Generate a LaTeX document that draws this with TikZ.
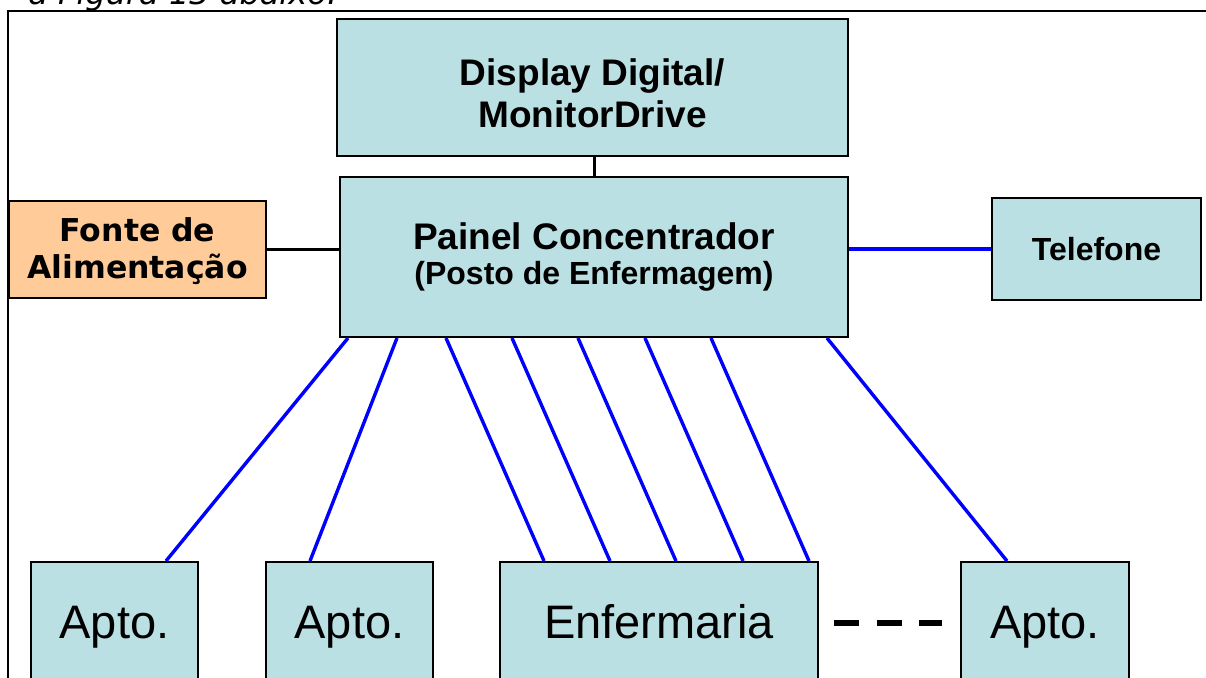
\documentclass[tikz,border=0pt]{standalone}
\usepackage{fontspec}
\setmainfont{Liberation Sans}
\newfontfamily\dvs{DejaVu Sans}
\usetikzlibrary{calc}
\definecolor{boxblue}{RGB}{187,224,227}
\definecolor{peach}{RGB}{255,204,153}
\definecolor{wireblue}{RGB}{0,0,255}
\tikzset{
  box/.style={draw=black, line width=1pt, fill=boxblue, inner sep=0pt, anchor=north west, align=center},
  roomfont/.style={font=\fontsize{23.5}{28}\selectfont, text height=16.8pt, text depth=0pt},
  wire/.style={draw=wireblue, line width=1.7pt},
  blk/.style={draw=black, line width=1.5pt},
  dashline/.style={draw=black, line width=3pt, dash pattern=on 12.5pt off 8.75pt}
}
\begin{document}
\begin{tikzpicture}[x=0.5pt,y=-0.5pt]
\useasboundingbox (0,0) rectangle (1206,677);
% frame
\draw[line width=1pt] (8,720) -- (8,10.5) -- (1240,10.5);
% caption (cut off at top, as in the reference)
\node[anchor=base west, inner sep=0pt, font=\dvs\itshape\fontsize{16}{19}\selectfont] (cap) at (28,4.5) {a Figura 13 abaixo.};
% boxes
\node[box, minimum width=255.5pt, minimum height=68.5pt, font=\fontsize{18.5}{21}\selectfont\bfseries] (disp) at (336,18) {\rule{0pt}{19.5pt}Display Digital/\\MonitorDrive};
\node[box, minimum width=254pt, minimum height=80pt, font=\fontsize{18.5}{17.5}\selectfont\bfseries] (pc) at (339,176) {Painel Concentrador\\{\fontsize{16}{17.5}\selectfont (Posto de Enfermagem)}};
\node[box, fill=peach, minimum width=128.5pt, minimum height=48.5pt, font=\dvs\bfseries\fontsize{15.75}{18.5}\selectfont] (fonte) at (8,200) {\rule{0pt}{14pt}Fonte de\\Alimentação};
\node[box, minimum width=104.5pt, minimum height=51pt, font=\fontsize{16}{19}\selectfont\bfseries] (tel) at (991,197) {Telefone};
\node[box, roomfont, minimum width=83.5pt, minimum height=59.5pt] (a1) at (30,561) {Apto.};
\node[box, roomfont, minimum width=83.5pt, minimum height=59.5pt] (a2) at (265,561) {Apto.};
\node[box, roomfont, minimum width=159pt, minimum height=59.5pt] (enf) at (499,561) {Enfermaria};
\node[box, roomfont, minimum width=84pt, minimum height=59.5pt] (a4) at (960,561) {Apto.};
% black connectors
\draw[blk] (pc.north |- disp.south) -- (pc.north);
\draw[blk] (fonte.east) -- (fonte.east -| pc.west);
% blue connectors
\draw[wire] (pc.east |- tel.west) -- (tel.west);
\draw[wire] ($(pc.south west)+(9,0)$) -- ($(a1.north west)+(136,0)$);
\draw[wire] ($(pc.south west)+(58,0)$) -- ($(a2.north west)+(45,0)$);
\draw[wire] ($(pc.south west)+(107,0)$) -- ($(enf.north west)+(45,0)$);
\draw[wire] ($(pc.south west)+(173,0)$) -- ($(enf.north west)+(111,0)$);
\draw[wire] ($(pc.south west)+(239,0)$) -- ($(enf.north west)+(177,0)$);
\draw[wire] ($(pc.south west)+(306,0)$) -- ($(enf.north west)+(244,0)$);
\draw[wire] ($(pc.south west)+(372,0)$) -- ($(enf.north west)+(310,0)$);
\draw[wire] ($(pc.south west)+(488,0)$) -- ($(a4.north west)+(47,0)$);
% dashed continuation
\draw[dashline] ($(enf.east)+(15,1)$) -- ($(a4.west)+(-18,1)$);
\end{tikzpicture}
\end{document}
